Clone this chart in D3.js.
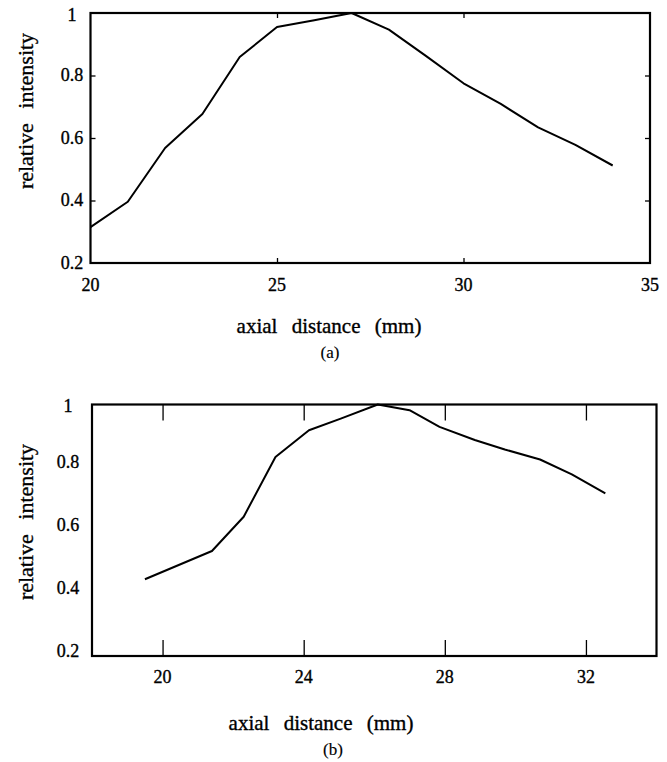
<!DOCTYPE html>
<html>
<head>
<meta charset="utf-8">
<script src="https://cdnjs.cloudflare.com/ajax/libs/d3/7.8.5/d3.min.js"></script>
<style>
  body { margin: 0; background: #fff; }
  text { fill: #000; stroke: #000; stroke-width: 0.35px; }
</style>
</head>
<body>
<svg id="chart" width="667" height="762"></svg>
<script>
// panel (a)
var distA = [20, 21, 22, 23, 24, 25, 26, 27, 28, 29, 30, 31, 32, 33, 34];
var intensityA = [0.315, 0.396, 0.568, 0.677, 0.859, 0.955, 0.977, 1.0, 0.947, 0.862, 0.775, 0.709, 0.634, 0.578, 0.512];
var xTicksA = [20, 25, 30, 35];

// panel (b)
var distB = [19.5, 21.4, 22.3, 23.2, 24.15, 25.05, 26.1, 27.0, 27.85, 28.85, 29.7, 30.7, 31.6, 32.55];
var intensityB = [0.444, 0.534, 0.643, 0.833, 0.918, 0.955, 1.0, 0.982, 0.929, 0.887, 0.857, 0.825, 0.778, 0.717];
var xTicksB = [20, 24, 28, 32];

var yTicks = [0.2, 0.4, 0.6, 0.8, 1];

var serif = "'Liberation Serif', 'Times New Roman', serif";

var svg = d3.select("#chart");

//draws one framed panel, with inward ticks and centred labels
function panel(opt) {
	var x = d3.scaleLinear().domain(opt.xDomain).range([opt.left, opt.right]);
	var y = d3.scaleLinear().domain([0.2, 1]).range([opt.bottom, opt.top]);
	var g = svg.append("g").attr("font-family", serif);

	//inward ticks on all sides
	g.append("g").attr("transform", "translate(0," + opt.bottom + ")")
		.call(d3.axisBottom(x).tickValues(opt.innerX).tickSize(-opt.xTickLen).tickFormat(""));
	g.append("g").attr("transform", "translate(0," + opt.top + ")")
		.call(d3.axisTop(x).tickValues(opt.innerX).tickSize(-opt.xTickLen).tickFormat(""));
	if (opt.yTickLen > 0) {
		g.append("g").attr("transform", "translate(" + opt.left + ",0)")
			.call(d3.axisLeft(y).tickValues([0.4, 0.6, 0.8]).tickSize(-opt.yTickLen).tickFormat(""));
		g.append("g").attr("transform", "translate(" + opt.right + ",0)")
			.call(d3.axisRight(y).tickValues([0.4, 0.6, 0.8]).tickSize(-opt.yTickLen).tickFormat(""));
	}
	g.selectAll(".domain").remove();
	g.selectAll(".tick line").attr("stroke", "#000").attr("stroke-width", 1.3);

	//frame
	g.append("rect")
		.attr("x", opt.left).attr("y", opt.top)
		.attr("width", opt.right - opt.left).attr("height", opt.bottom - opt.top)
		.attr("fill", "none").attr("stroke", "#000").attr("stroke-width", 2.2);

	//the curve
	var pts = d3.zip(opt.xs, opt.ys);
	g.append("path")
		.datum(pts)
		.attr("d", d3.line().x(function(d) { return x(d[0]); }).y(function(d) { return y(d[1]); }))
		.attr("fill", "none").attr("stroke", "#000").attr("stroke-width", 2)
		.attr("stroke-linejoin", "round");

	//tick labels
	g.selectAll(".xl").data(opt.xLabels).enter().append("text")
		.attr("font-family", serif)
		.attr("x", function(d) { return x(d); })
		.attr("y", opt.xLabelY)
		.attr("text-anchor", "middle")
		.style("font-size", "18px")
		.text(function(d) { return d; });

	g.selectAll(".yl").data(yTicks).enter().append("text")
		.attr("font-family", serif)
		.attr("x", opt.yLabelX)
		.attr("y", function(d) { return y(d) + (d === 1 ? 2 : opt.yLabelShift); })
		.attr("dy", "0.33em")
		.attr("text-anchor", "middle")
		.style("font-size", "18px")
		.text(function(d) { return d3.format("")(d); });

	//axis titles
	g.append("text")
		.attr("font-family", serif)
		.attr("transform", "translate(33," + opt.yTitleY + ") rotate(-90)")
		.attr("text-anchor", "middle")
		.style("font-size", "22px")
		.style("word-spacing", "9px")
		.text("relative intensity");

	g.append("text")
		.attr("font-family", serif)
		.attr("x", opt.xTitleX).attr("y", opt.xTitleY)
		.attr("text-anchor", "middle")
		.style("font-size", "21px")
		.style("word-spacing", "9px")
		.text("axial distance (mm)");

	g.append("text")
		.attr("font-family", serif)
		.attr("x", opt.capX).attr("y", opt.capY)
		.attr("text-anchor", "middle")
		.style("font-size", "17px")
		.style("stroke-width", "0.15px")
		.text(opt.caption);
}

panel({
	xDomain: [20, 35], left: 90.5, right: 650, top: 13, bottom: 263,
	xs: distA, ys: intensityA,
	innerX: [25, 30], xTickLen: 5, yTickLen: 5,
	xLabels: xTicksA, xLabelY: 291,
	yLabelX: 72, yLabelShift: 0,
	yTitleY: 111, xTitleX: 329, xTitleY: 333,
	capX: 330, capY: 358, caption: "(a)"
});

panel({
	xDomain: [18, 34], left: 92, right: 656.5, top: 404.5, bottom: 656,
	xs: distB, ys: intensityB,
	innerX: xTicksB, xTickLen: 16, yTickLen: 0,
	xLabels: xTicksB, xLabelY: 683,
	yLabelX: 68, yLabelShift: -5,
	yTitleY: 522, xTitleX: 321, xTitleY: 730,
	capX: 333, capY: 755, caption: "(b)"
});
</script>
</body>
</html>
